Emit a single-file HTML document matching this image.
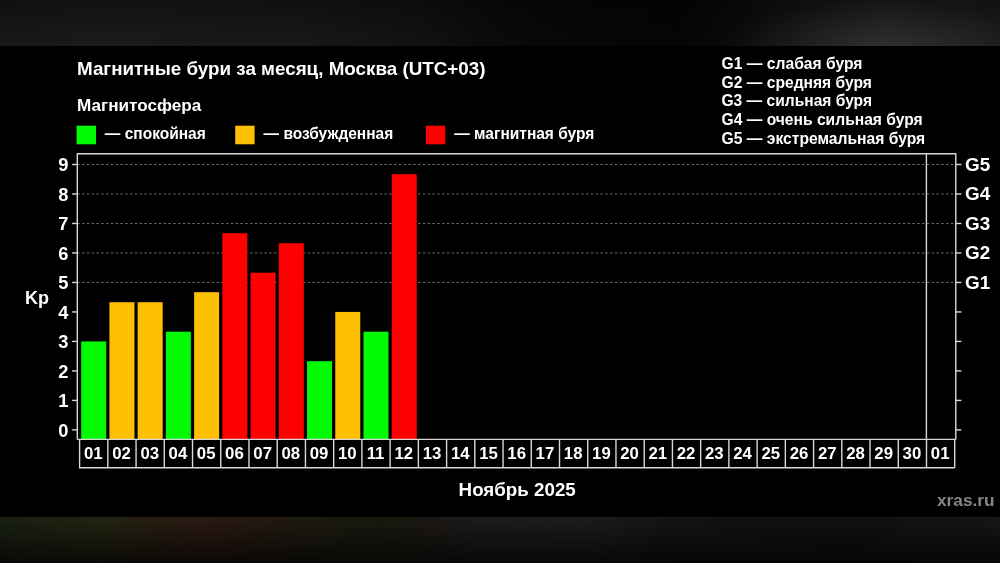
<!DOCTYPE html>
<html lang="ru"><head><meta charset="utf-8"><title>Магнитные бури за месяц</title>
<style>
html,body{margin:0;padding:0;background:#000;}
body{width:1000px;height:563px;overflow:hidden;font-family:"Liberation Sans",sans-serif;}
svg{display:block;will-change:transform;}
text{font-family:"Liberation Sans",sans-serif;font-weight:bold;fill:#fff;}
</style></head><body>
<svg width="1000" height="563" viewBox="0 0 1000 563">
<defs>
<linearGradient id="tb" x1="0" x2="1" y1="0" y2="0">
<stop offset="0" stop-color="#181818"/><stop offset="0.10" stop-color="#1b1b1b"/><stop offset="0.30" stop-color="#181818"/>
<stop offset="0.42" stop-color="#121212"/><stop offset="0.50" stop-color="#0a0a0a"/><stop offset="0.60" stop-color="#060606"/>
<stop offset="0.68" stop-color="#050505"/><stop offset="0.74" stop-color="#0b0b0b"/><stop offset="0.80" stop-color="#151515"/>
<stop offset="0.88" stop-color="#202020"/><stop offset="0.94" stop-color="#1e1e1e"/><stop offset="1" stop-color="#1b1b1b"/>
</linearGradient>
<linearGradient id="bb" x1="0" x2="1" y1="0" y2="0">
<stop offset="0" stop-color="#1a2012"/><stop offset="0.10" stop-color="#222412"/><stop offset="0.15" stop-color="#271e12"/>
<stop offset="0.20" stop-color="#2c1a12"/><stop offset="0.24" stop-color="#281912"/><stop offset="0.30" stop-color="#1e1a10"/>
<stop offset="0.38" stop-color="#181a10"/><stop offset="0.43" stop-color="#1c1814"/><stop offset="0.48" stop-color="#1c1c1c"/>
<stop offset="0.60" stop-color="#1b1b1b"/><stop offset="0.68" stop-color="#131313"/><stop offset="0.85" stop-color="#111111"/>
<stop offset="1" stop-color="#161616"/>
</linearGradient>
<linearGradient id="vd" x1="0" x2="0" y1="0" y2="1">
<stop offset="0" stop-color="#000" stop-opacity="0"/><stop offset="1" stop-color="#000" stop-opacity="0.7"/>
</linearGradient>
<linearGradient id="vt" x1="0" x2="0" y1="0" y2="1">
<stop offset="0" stop-color="#000" stop-opacity="0.35"/><stop offset="1" stop-color="#000" stop-opacity="0"/>
</linearGradient>
<radialGradient id="hl" cx="0.5" cy="1" r="0.5" fx="0.5" fy="1"><stop offset="0" stop-color="#fff" stop-opacity="0.07"/><stop offset="1" stop-color="#fff" stop-opacity="0"/></radialGradient>
</defs>
<rect x="0" y="0" width="1000" height="563" fill="#000"/>
<rect x="0" y="0" width="1000" height="46" fill="url(#tb)"/>
<rect x="0" y="0" width="1000" height="46" fill="url(#vt)"/>
<rect x="720" y="-46" width="320" height="92" fill="url(#hl)"/>
<rect x="0" y="517" width="1000" height="46" fill="url(#bb)"/>
<rect x="0" y="517" width="1000" height="46" fill="url(#vd)"/>
<g style="filter:blur(0.3px)">
<text x="77" y="74.7" font-size="18.6" textLength="408.5" lengthAdjust="spacingAndGlyphs">Магнитные бури за месяц, Москва (UTC+03)</text>
<text x="77" y="110.6" font-size="16.8" textLength="124.3" lengthAdjust="spacingAndGlyphs">Магнитосфера</text>
<rect x="76.6" y="125.7" width="19.4" height="18.6" fill="#02fb04"/>
<rect x="235.2" y="125.7" width="19.4" height="18.6" fill="#fec002"/>
<rect x="425.8" y="125.7" width="19.4" height="18.6" fill="#fe0000"/>
<text x="104.8" y="138.8" font-size="16" textLength="101" lengthAdjust="spacingAndGlyphs">— спокойная</text>
<text x="263.6" y="138.8" font-size="16" textLength="129.6" lengthAdjust="spacingAndGlyphs">— возбужденная</text>
<text x="454.3" y="138.8" font-size="16" textLength="140" lengthAdjust="spacingAndGlyphs">— магнитная буря</text>
<text x="721.5" y="68.9" font-size="15.8" textLength="141" lengthAdjust="spacingAndGlyphs">G1 — слабая буря</text>
<text x="721.5" y="87.62" font-size="15.8" textLength="150.5" lengthAdjust="spacingAndGlyphs">G2 — средняя буря</text>
<text x="721.5" y="106.34" font-size="15.8" textLength="150.5" lengthAdjust="spacingAndGlyphs">G3 — сильная буря</text>
<text x="721.5" y="125.06" font-size="15.8" textLength="201.2" lengthAdjust="spacingAndGlyphs">G4 — очень сильная буря</text>
<text x="721.5" y="143.78" font-size="15.8" textLength="203.7" lengthAdjust="spacingAndGlyphs">G5 — экстремальная буря</text>
<line x1="77.3" x2="955.8" y1="282.45" y2="282.45" stroke="#707070" stroke-width="1" stroke-dasharray="2.4 2.4"/>
<line x1="77.3" x2="955.8" y1="252.96" y2="252.96" stroke="#707070" stroke-width="1" stroke-dasharray="2.4 2.4"/>
<line x1="77.3" x2="955.8" y1="223.47" y2="223.47" stroke="#707070" stroke-width="1" stroke-dasharray="2.4 2.4"/>
<line x1="77.3" x2="955.8" y1="193.98" y2="193.98" stroke="#707070" stroke-width="1" stroke-dasharray="2.4 2.4"/>
<line x1="77.3" x2="955.8" y1="164.49" y2="164.49" stroke="#707070" stroke-width="1" stroke-dasharray="2.4 2.4"/>
<rect x="81.20" y="341.43" width="25.0" height="97.97" fill="#02fb04"/>
<rect x="109.43" y="302.21" width="25.0" height="137.19" fill="#fec002"/>
<rect x="137.66" y="302.21" width="25.0" height="137.19" fill="#fec002"/>
<rect x="165.89" y="331.70" width="25.0" height="107.70" fill="#02fb04"/>
<rect x="194.12" y="292.18" width="25.0" height="147.22" fill="#fec002"/>
<rect x="222.35" y="233.20" width="25.0" height="206.20" fill="#fe0000"/>
<rect x="250.58" y="272.72" width="25.0" height="166.68" fill="#fe0000"/>
<rect x="278.81" y="243.23" width="25.0" height="196.17" fill="#fe0000"/>
<rect x="307.04" y="361.19" width="25.0" height="78.21" fill="#02fb04"/>
<rect x="335.27" y="311.94" width="25.0" height="127.46" fill="#fec002"/>
<rect x="363.50" y="331.70" width="25.0" height="107.70" fill="#02fb04"/>
<rect x="391.73" y="174.22" width="25.0" height="265.18" fill="#fe0000"/>
<g stroke="#d8d8d8" stroke-width="1.4" fill="none">
<path d="M77.3 439.4 V153.8 H955.8 V439.4"/>
<path d="M77.3 439.4 H955.8"/>
<path d="M926.4 153.8 V439.4"/>
<path d="M72.1 429.90 H77.3"/>
<path d="M955.8 429.90 H961.4"/>
<path d="M72.1 400.41 H77.3"/>
<path d="M955.8 400.41 H961.4"/>
<path d="M72.1 370.92 H77.3"/>
<path d="M955.8 370.92 H961.4"/>
<path d="M72.1 341.43 H77.3"/>
<path d="M955.8 341.43 H961.4"/>
<path d="M72.1 311.94 H77.3"/>
<path d="M955.8 311.94 H961.4"/>
<path d="M72.1 282.45 H77.3"/>
<path d="M955.8 282.45 H961.4"/>
<path d="M72.1 252.96 H77.3"/>
<path d="M955.8 252.96 H961.4"/>
<path d="M72.1 223.47 H77.3"/>
<path d="M955.8 223.47 H961.4"/>
<path d="M72.1 193.98 H77.3"/>
<path d="M955.8 193.98 H961.4"/>
<path d="M72.1 164.49 H77.3"/>
<path d="M955.8 164.49 H961.4"/>
<path d="M79.6 439.4 V467.7 H954.73"/>
<path d="M107.83 439.4 V467.7"/>
<path d="M136.06 439.4 V467.7"/>
<path d="M164.29 439.4 V467.7"/>
<path d="M192.52 439.4 V467.7"/>
<path d="M220.75 439.4 V467.7"/>
<path d="M248.98 439.4 V467.7"/>
<path d="M277.21 439.4 V467.7"/>
<path d="M305.44 439.4 V467.7"/>
<path d="M333.67 439.4 V467.7"/>
<path d="M361.90 439.4 V467.7"/>
<path d="M390.13 439.4 V467.7"/>
<path d="M418.36 439.4 V467.7"/>
<path d="M446.59 439.4 V467.7"/>
<path d="M474.82 439.4 V467.7"/>
<path d="M503.05 439.4 V467.7"/>
<path d="M531.28 439.4 V467.7"/>
<path d="M559.51 439.4 V467.7"/>
<path d="M587.74 439.4 V467.7"/>
<path d="M615.97 439.4 V467.7"/>
<path d="M644.20 439.4 V467.7"/>
<path d="M672.43 439.4 V467.7"/>
<path d="M700.66 439.4 V467.7"/>
<path d="M728.89 439.4 V467.7"/>
<path d="M757.12 439.4 V467.7"/>
<path d="M785.35 439.4 V467.7"/>
<path d="M813.58 439.4 V467.7"/>
<path d="M841.81 439.4 V467.7"/>
<path d="M870.04 439.4 V467.7"/>
<path d="M898.27 439.4 V467.7"/>
<path d="M926.50 439.4 V467.7"/>
<path d="M954.73 439.4 V467.7"/>
</g>
<text x="93.26" y="458.5" font-size="16.8" text-anchor="middle">01</text>
<text x="121.49" y="458.5" font-size="16.8" text-anchor="middle">02</text>
<text x="149.73" y="458.5" font-size="16.8" text-anchor="middle">03</text>
<text x="177.96" y="458.5" font-size="16.8" text-anchor="middle">04</text>
<text x="206.19" y="458.5" font-size="16.8" text-anchor="middle">05</text>
<text x="234.42" y="458.5" font-size="16.8" text-anchor="middle">06</text>
<text x="262.64" y="458.5" font-size="16.8" text-anchor="middle">07</text>
<text x="290.88" y="458.5" font-size="16.8" text-anchor="middle">08</text>
<text x="319.11" y="458.5" font-size="16.8" text-anchor="middle">09</text>
<text x="347.33" y="458.5" font-size="16.8" text-anchor="middle">10</text>
<text x="375.56" y="458.5" font-size="16.8" text-anchor="middle">11</text>
<text x="403.80" y="458.5" font-size="16.8" text-anchor="middle">12</text>
<text x="432.03" y="458.5" font-size="16.8" text-anchor="middle">13</text>
<text x="460.26" y="458.5" font-size="16.8" text-anchor="middle">14</text>
<text x="488.49" y="458.5" font-size="16.8" text-anchor="middle">15</text>
<text x="516.71" y="458.5" font-size="16.8" text-anchor="middle">16</text>
<text x="544.94" y="458.5" font-size="16.8" text-anchor="middle">17</text>
<text x="573.17" y="458.5" font-size="16.8" text-anchor="middle">18</text>
<text x="601.40" y="458.5" font-size="16.8" text-anchor="middle">19</text>
<text x="629.63" y="458.5" font-size="16.8" text-anchor="middle">20</text>
<text x="657.87" y="458.5" font-size="16.8" text-anchor="middle">21</text>
<text x="686.10" y="458.5" font-size="16.8" text-anchor="middle">22</text>
<text x="714.33" y="458.5" font-size="16.8" text-anchor="middle">23</text>
<text x="742.55" y="458.5" font-size="16.8" text-anchor="middle">24</text>
<text x="770.78" y="458.5" font-size="16.8" text-anchor="middle">25</text>
<text x="799.01" y="458.5" font-size="16.8" text-anchor="middle">26</text>
<text x="827.25" y="458.5" font-size="16.8" text-anchor="middle">27</text>
<text x="855.48" y="458.5" font-size="16.8" text-anchor="middle">28</text>
<text x="883.71" y="458.5" font-size="16.8" text-anchor="middle">29</text>
<text x="911.93" y="458.5" font-size="16.8" text-anchor="middle">30</text>
<text x="940.16" y="458.5" font-size="16.8" text-anchor="middle">01</text>
<text x="68.5" y="436.50" font-size="18.3" text-anchor="end">0</text>
<text x="68.5" y="407.01" font-size="18.3" text-anchor="end">1</text>
<text x="68.5" y="377.52" font-size="18.3" text-anchor="end">2</text>
<text x="68.5" y="348.03" font-size="18.3" text-anchor="end">3</text>
<text x="68.5" y="318.54" font-size="18.3" text-anchor="end">4</text>
<text x="68.5" y="289.05" font-size="18.3" text-anchor="end">5</text>
<text x="68.5" y="259.56" font-size="18.3" text-anchor="end">6</text>
<text x="68.5" y="230.07" font-size="18.3" text-anchor="end">7</text>
<text x="68.5" y="200.58" font-size="18.3" text-anchor="end">8</text>
<text x="68.5" y="171.09" font-size="18.3" text-anchor="end">9</text>
<text x="965.0" y="288.95" font-size="18" textLength="25.2" lengthAdjust="spacingAndGlyphs">G1</text>
<text x="965.0" y="259.46" font-size="18" textLength="25.2" lengthAdjust="spacingAndGlyphs">G2</text>
<text x="965.0" y="229.97" font-size="18" textLength="25.2" lengthAdjust="spacingAndGlyphs">G3</text>
<text x="965.0" y="200.48" font-size="18" textLength="25.2" lengthAdjust="spacingAndGlyphs">G4</text>
<text x="965.0" y="170.99" font-size="18" textLength="25.2" lengthAdjust="spacingAndGlyphs">G5</text>
<text x="25.0" y="303.6" font-size="18">Kp</text>
<text x="517.2" y="495.9" font-size="18.5" text-anchor="middle" textLength="117.2" lengthAdjust="spacingAndGlyphs">Ноябрь 2025</text>
<text x="937" y="505.6" font-size="17" textLength="57.6" lengthAdjust="spacingAndGlyphs" style="fill:#858585">xras.ru</text>
</g>
</svg></body></html>
